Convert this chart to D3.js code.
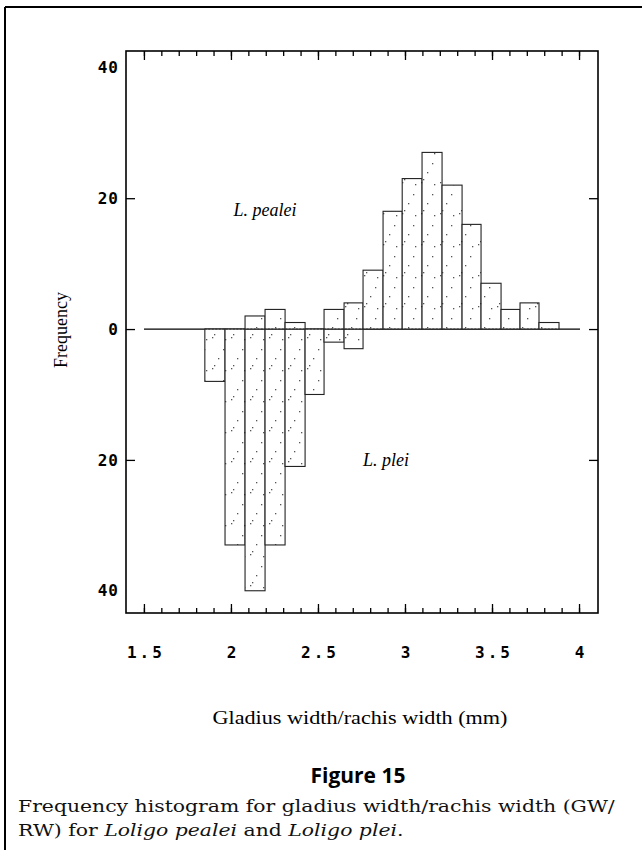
<!DOCTYPE html>
<html>
<head>
<meta charset="utf-8">
<script src="https://cdn.jsdelivr.net/npm/d3@7"></script>
<style>
  html, body { margin: 0; padding: 0; background: #fff; }
  svg { display: block; }
</style>
</head>
<body>
<svg id="chart" width="642" height="850"></svg>
<script>
// ---- data ----
const binEdges = [1.85, 1.966, 2.081, 2.196, 2.311, 2.426, 2.535, 2.65, 2.759, 2.874,
                  2.984, 3.098, 3.213, 3.328, 3.437, 3.552, 3.661, 3.77, 3.885];
const pealeiCounts = [0, 0, 2, 3, 1, 0, 3, 4, 9, 18, 23, 27, 22, 16, 7, 3, 4, 1];
const pleiCounts   = [8, 33, 40, 33, 21, 10, 2, 3, 0, 0, 0, 0, 0, 0, 0, 0, 0, 0];
const xTickValues = [1.5, 2, 2.5, 3, 3.5, 4];
const xTickLabels = ["1.5", "2", "2.5", "3", "3.5", "4"];
const yTickValues = [40, 20, 0, -20, -40];
const yTickLabels = ["40", "20", "0", "20", "40"];
const seriesNames = ["L. pealei", "L. plei"];
const xTitle = "Gladius width/rachis width (mm)";
const yTitle = "Frequency";
const figTitle = "Figure 15";

// ---- layout ----
const L = 126, R = 598, T = 51, B = 613;
const svg = d3.select("#chart");

const x = d3.scaleLinear().domain([1.397, 4.109]).range([L, R]);
const y = d3.scaleLinear().domain([-43.4, 42.5]).range([B, T]);

// outer page frame (top and left rules)
svg.append("line").attr("x1", 5).attr("x2", 642).attr("y1", 7).attr("y2", 7)
  .attr("stroke", "#000").attr("stroke-width", 2);
svg.append("line").attr("x1", 5).attr("x2", 5).attr("y1", 7).attr("y2", 850)
  .attr("stroke", "#000").attr("stroke-width", 2);

// sparse stipple pattern
const defs = svg.append("defs");
const pat = defs.append("pattern").attr("id", "stip").attr("patternUnits", "userSpaceOnUse")
  .attr("width", 19).attr("height", 31);
pat.append("rect").attr("width", 19).attr("height", 31).attr("fill", "#fff");
[[3,27],[5,24],[14,8],[9,17],[16,29]].forEach(([cx, cy]) =>
  pat.append("rect").attr("x", cx).attr("y", cy).attr("width", 1.3).attr("height", 1.3).attr("fill", "#555"));

// bars
const bins = pealeiCounts.map((v, i) => ({ x0: binEdges[i], x1: binEdges[i + 1], up: v, down: pleiCounts[i] }));

// zero line
svg.append("line").attr("x1", 144).attr("x2", 580).attr("y1", y(0)).attr("y2", y(0))
  .attr("stroke", "#000").attr("stroke-width", 1.2);

svg.append("g").selectAll("rect.dn").data(bins.filter(d => d.down > 0)).join("rect")
  .attr("class", "dn")
  .attr("x", d => x(d.x0)).attr("width", d => x(d.x1) - x(d.x0))
  .attr("y", y(0)).attr("height", d => y(-d.down) - y(0))
  .attr("fill", "url(#stip)").attr("stroke", "#222").attr("stroke-width", 1.1);

svg.append("g").selectAll("rect.up").data(bins.filter(d => d.up > 0)).join("rect")
  .attr("class", "up")
  .attr("x", d => x(d.x0)).attr("width", d => x(d.x1) - x(d.x0))
  .attr("y", d => y(d.up)).attr("height", d => y(0) - y(d.up))
  .attr("fill", "url(#stip)").attr("stroke", "#222").attr("stroke-width", 1.1);

svg.append("line").attr("x1", x(binEdges[0])).attr("x2", x(binEdges[binEdges.length - 1]))
  .attr("y1", y(0)).attr("y2", y(0))
  .attr("stroke", "#333").attr("stroke-width", 1).attr("stroke-dasharray", "2,1.5");

// axes
const tickFont = "'DejaVu Sans Mono', monospace";
const minorTicks = d3.range(15, 41).map(v => v / 10);

function styleAxis(g) {
  g.select(".domain").remove();
  g.selectAll(".tick line").attr("stroke", "#000").attr("stroke-width", 1.3);
  g.selectAll("text").attr("font-family", tickFont).attr("font-weight", "bold")
    .attr("font-size", 16).attr("fill", "#000");
}

// bottom
svg.append("g").attr("transform", `translate(0,${B})`)
  .call(d3.axisBottom(x).tickValues(minorTicks).tickSize(-5).tickFormat(""))
  .call(styleAxis);
svg.append("g").attr("transform", `translate(0,${B})`)
  .call(d3.axisBottom(x).tickValues(xTickValues).tickSize(-9).tickPadding(34)
    .tickFormat((d, i) => xTickLabels[i]))
  .call(styleAxis)
  .call(g => g.selectAll("text").attr("letter-spacing", "3px").attr("dx", "1.5px"));
// top
svg.append("g").attr("transform", `translate(0,${T})`)
  .call(d3.axisTop(x).tickValues(minorTicks).tickSize(-5).tickFormat(""))
  .call(styleAxis);
svg.append("g").attr("transform", `translate(0,${T})`)
  .call(d3.axisTop(x).tickValues(xTickValues).tickSize(-9).tickFormat(""))
  .call(styleAxis);
// left
svg.append("g").attr("transform", `translate(${L},0)`)
  .call(d3.axisLeft(y).tickValues(yTickValues).tickSize(-9).tickPadding(7)
    .tickFormat((d, i) => yTickLabels[i]))
  .call(styleAxis)
  .call(g => g.selectAll(".tick").filter(d => Math.abs(d) === 40).select("line").remove())
  .call(g => g.selectAll("text").attr("letter-spacing", "1px"));
// right
svg.append("g").attr("transform", `translate(${R},0)`)
  .call(d3.axisRight(y).tickValues([20, 0, -20]).tickSize(-9).tickFormat(""))
  .call(styleAxis);

// frame
svg.append("rect").attr("x", L).attr("y", T).attr("width", R - L).attr("height", B - T)
  .attr("fill", "none").attr("stroke", "#000").attr("stroke-width", 1.6);

// series labels
svg.append("text").attr("x", 265).attr("y", 216).attr("text-anchor", "middle")
  .attr("font-family", "'Liberation Serif', serif").attr("font-style", "italic")
  .attr("font-size", 18).text(seriesNames[0]);
svg.append("text").attr("x", 386).attr("y", 466).attr("text-anchor", "middle")
  .attr("font-family", "'Liberation Serif', serif").attr("font-style", "italic")
  .attr("font-size", 18).text(seriesNames[1]);

// y title
svg.append("text").attr("transform", "translate(67,330) rotate(-90)")
  .attr("text-anchor", "middle").attr("font-family", "'Liberation Serif', serif")
  .attr("font-size", 18).text(yTitle);

// x title
svg.append("text").attr("x", 360).attr("y", 724).attr("text-anchor", "middle")
  .attr("font-family", "'Liberation Serif', serif").attr("font-size", 18)
  .attr("textLength", 295).attr("lengthAdjust", "spacingAndGlyphs").text(xTitle);

// figure title
svg.append("text").attr("x", 358).attr("y", 783).attr("text-anchor", "middle")
  .attr("font-family", "'Open Sans', 'DejaVu Sans', sans-serif").attr("font-weight", "bold")
  .attr("font-size", 21).text(figTitle);

// caption
const cap = svg.append("g");
const capFont = "'DejaVu Serif', serif";
const l1 = cap.append("text").attr("x", 0).attr("y", 812)
  .attr("font-family", capFont).attr("font-size", 17).attr("fill", "#111")
  .text("Frequency histogram for gladius width/rachis width (GW/");
const l2 = cap.append("text").attr("x", 0).attr("y", 836)
  .attr("font-family", capFont).attr("font-size", 17).attr("fill", "#111");
l2.append("tspan").text("RW) for ");
l2.append("tspan").attr("font-style", "italic").text("Loligo pealei");
l2.append("tspan").text(" and ");
l2.append("tspan").attr("font-style", "italic").text("Loligo plei");
l2.append("tspan").text(".");
const w1 = l1.node().getComputedTextLength();
const k = 597 / w1;
cap.attr("transform", `translate(18,0) scale(${k},1)`);
</script>
</body>
</html>
